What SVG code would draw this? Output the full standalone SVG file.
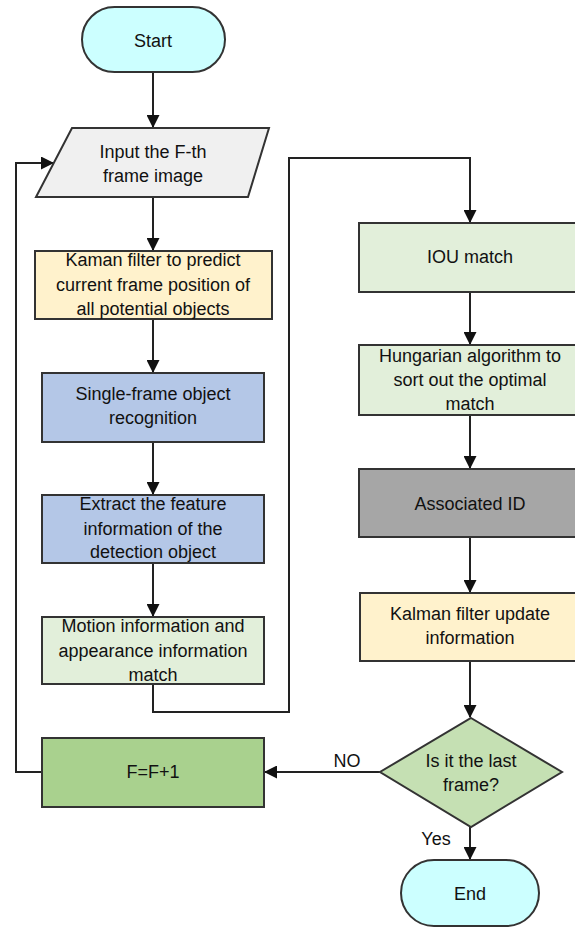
<svg xmlns="http://www.w3.org/2000/svg" width="575" height="928" viewBox="0 0 575 928">
  <defs>
    <marker id="arr" viewBox="0 0 13 13" refX="12" refY="6.5" markerWidth="13" markerHeight="13" markerUnits="userSpaceOnUse" orient="auto">
      <path d="M0,0 L13,6.5 L0,13 z" fill="#111"/>
    </marker>
    <style>
      .shape { stroke: #333; stroke-width: 2; }
      .t { font-family: "Liberation Sans", Arial, sans-serif; font-size: 18px; fill: #111; text-anchor: middle; }
      .lbl { font-family: "Liberation Sans", Arial, sans-serif; font-size: 18px; fill: #111; text-anchor: middle; }
      .conn { fill: none; stroke: #222; stroke-width: 2; }
    </style>
  </defs>
  <rect width="575" height="928" fill="#ffffff"/>

  <g id="connectors">
    <path class="conn" d="M153,72 V127" marker-end="url(#arr)"/>
    <path class="conn" d="M153,197 V250" marker-end="url(#arr)"/>
    <path class="conn" d="M153,319 V372" marker-end="url(#arr)"/>
    <path class="conn" d="M153,442 V494" marker-end="url(#arr)"/>
    <path class="conn" d="M153,563 V616" marker-end="url(#arr)"/>
    <path class="conn" d="M153,684 V712 H289 V158 H470 V222" marker-end="url(#arr)"/>
    <path class="conn" d="M470,292 V344" marker-end="url(#arr)"/>
    <path class="conn" d="M470,415 V468" marker-end="url(#arr)"/>
    <path class="conn" d="M470,537 V592" marker-end="url(#arr)"/>
    <path class="conn" d="M470,661 V717" marker-end="url(#arr)"/>
    <path class="conn" d="M380,772 H265" marker-end="url(#arr)"/>
    <path class="conn" d="M42,772 H16 V163 H53" marker-end="url(#arr)"/>
    <path class="conn" d="M470,827 V859" marker-end="url(#arr)"/>
    <text class="lbl" x="347" y="767">NO</text>
    <text class="lbl" x="436" y="845">Yes</text>
  </g>

  <g id="start">
    <rect class="shape" x="82" y="7" width="143" height="65" rx="32.5" fill="#ccffff"/>
    <text class="t" x="153" y="47">Start</text>
  </g>

  <g id="input">
    <polygon class="shape" points="72,128 269,128 248,197 36,197" fill="#f0f0f0"/>
    <text class="t" x="153" y="158">Input the F-th</text>
    <text class="t" x="153" y="182">frame image</text>
  </g>

  <g id="kaman">
    <rect class="shape" x="35" y="251" width="237" height="68" fill="#fff2cc"/>
    <text class="t" x="153" y="266">Kaman filter to predict</text>
    <text class="t" x="153" y="291">current frame position of</text>
    <text class="t" x="153" y="315">all potential objects</text>
  </g>

  <g id="single">
    <rect class="shape" x="42" y="373" width="222" height="69" fill="#b4c7e7"/>
    <text class="t" x="153" y="400">Single-frame object</text>
    <text class="t" x="153" y="424">recognition</text>
  </g>

  <g id="extract">
    <rect class="shape" x="42" y="495" width="222" height="68" fill="#b4c7e7"/>
    <text class="t" x="153" y="510">Extract the feature</text>
    <text class="t" x="153" y="535">information of the</text>
    <text class="t" x="153" y="558">detection object</text>
  </g>

  <g id="motion">
    <rect class="shape" x="42" y="617" width="222" height="67" fill="#e2efda"/>
    <text class="t" x="153" y="632">Motion information and</text>
    <text class="t" x="153" y="657">appearance information</text>
    <text class="t" x="153" y="681">match</text>
  </g>

  <g id="iou">
    <rect class="shape" x="359" y="223" width="222" height="69" fill="#e2efda"/>
    <text class="t" x="470" y="263">IOU match</text>
  </g>

  <g id="hungarian">
    <rect class="shape" x="359" y="345" width="222" height="70" fill="#e2efda"/>
    <text class="t" x="470" y="362">Hungarian algorithm to</text>
    <text class="t" x="470" y="386">sort out the optimal</text>
    <text class="t" x="470" y="410">match</text>
  </g>

  <g id="associated">
    <rect class="shape" x="359" y="469" width="222" height="68" fill="#a6a6a6"/>
    <text class="t" x="470" y="510">Associated ID</text>
  </g>

  <g id="kalman">
    <rect class="shape" x="360" y="593" width="221" height="68" fill="#fff2cc"/>
    <text class="t" x="470" y="620">Kalman filter update</text>
    <text class="t" x="470" y="644">information</text>
  </g>

  <g id="decision">
    <polygon class="shape" points="471,718 562,772 471,827 380,772" fill="#c5e0b3"/>
    <text class="t" x="471" y="767">Is it the last</text>
    <text class="t" x="471" y="791">frame?</text>
  </g>

  <g id="increment">
    <rect class="shape" x="42" y="738" width="222" height="69" fill="#a9d18e"/>
    <text class="t" x="153" y="778">F=F+1</text>
  </g>

  <g id="end">
    <rect class="shape" x="401" y="860" width="138" height="66" rx="33" fill="#ccffff"/>
    <text class="t" x="470" y="900">End</text>
  </g>
</svg>
